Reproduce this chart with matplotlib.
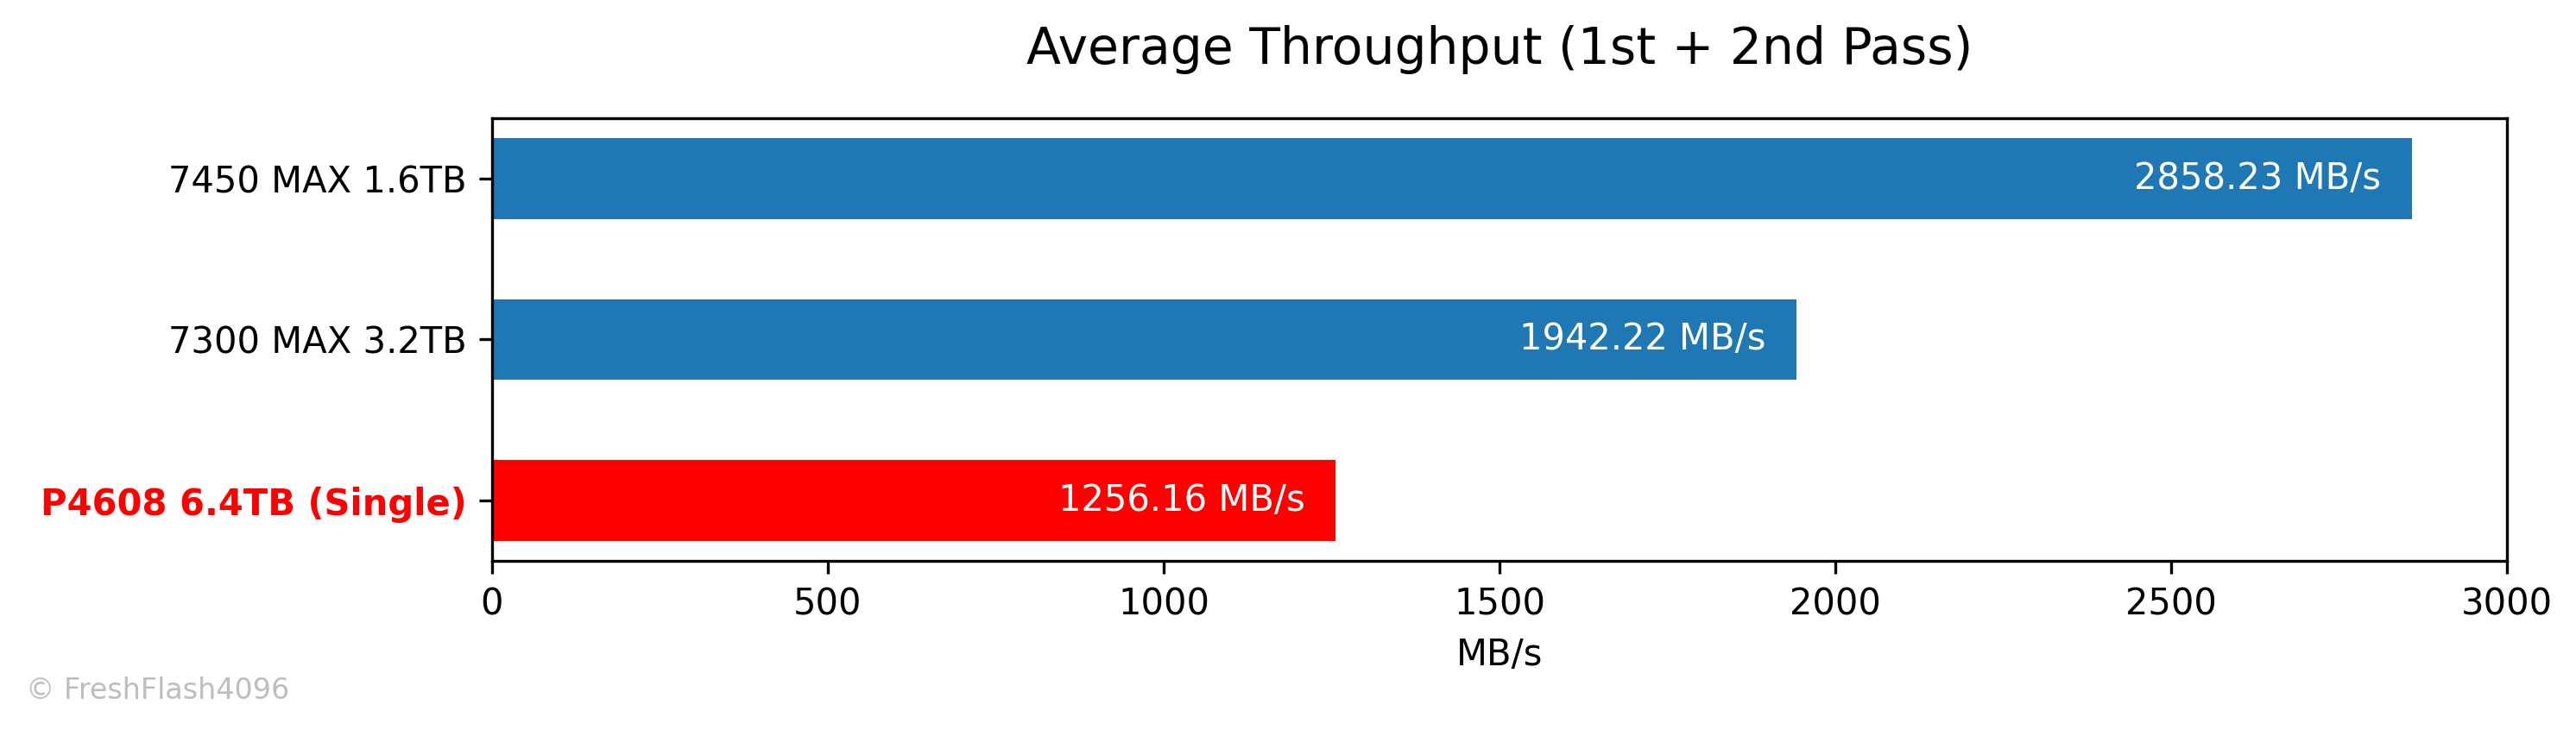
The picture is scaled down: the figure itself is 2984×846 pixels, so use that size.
import matplotlib
matplotlib.use("Agg")
import matplotlib.pyplot as plt

drives = ["P4608 6.4TB (Single)", "7300 MAX 3.2TB", "7450 MAX 1.6TB"]
throughput = [1256.16, 1942.22, 2858.23]
bar_colors = ["#ff0000", "#1f77b4", "#1f77b4"]


def main():
    fig, ax = plt.subplots(figsize=(2984 / 300, 846 / 300), dpi=300)
    fig.subplots_adjust(left=0.191, right=0.9732, bottom=0.2317, top=0.8381)

    ypos = list(range(len(drives)))
    ax.barh(ypos, throughput, height=0.5, color=bar_colors)

    for y, v in zip(ypos, throughput):
        ax.annotate("{:.2f} MB/s".format(v), xy=(v, y), xytext=(-8.5, 0),
                    textcoords="offset points", ha="right", va="center",
                    color="white", fontsize=10)

    ax.set_yticks(ypos)
    ax.set_yticklabels(drives, fontsize=10)
    lbl = ax.get_yticklabels()[0]
    lbl.set_color("red")
    lbl.set_fontweight("bold")

    ax.set_xlim(0, 3000)
    ax.tick_params(axis="x", labelsize=10)
    ax.set_xlabel("MB/s", fontsize=10)
    ax.set_title("Average Throughput (1st + 2nd Pass)", fontsize=14, pad=15)

    fig.text(0.01, 0.0426, "\u00a9 FreshFlash4096", fontsize=8, color="#bdbdbd",
             ha="left", va="baseline")

    fig.savefig("out.png", dpi=300)


main()
